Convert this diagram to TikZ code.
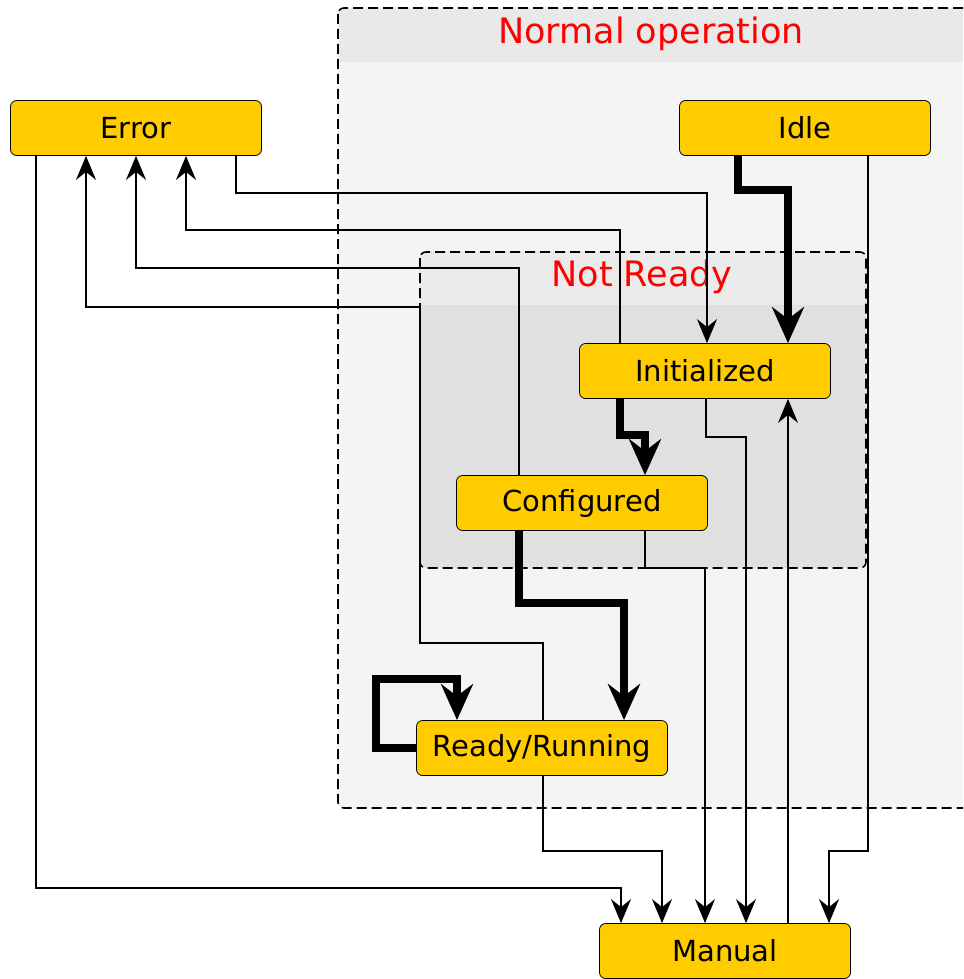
\documentclass[tikz,border=0pt]{standalone}
\usepackage{fontspec}
\setmainfont{DejaVu Sans}
\usepackage{tikz}
\usetikzlibrary{arrows.meta}
\definecolor{statefill}{HTML}{FFCC00}
\definecolor{outerhead}{HTML}{E9E9E9}
\definecolor{outerbody}{HTML}{F4F4F4}
\definecolor{innerhead}{HTML}{EBEBEB}
\definecolor{innerbody}{HTML}{E0E0E0}

\begin{document}
\begin{tikzpicture}[x=0.5pt,y=-0.5pt,
	state/.style={shape=rectangle,rounded corners=3pt,draw=black,fill=statefill,minimum width=125.5pt,minimum height=27.5pt,inner sep=0pt,font=\fontsize{14.5}{17}\selectfont},
	go/.style={-{Stealth[length=12pt,width=10pt,inset=4pt]},line width=0.7pt},
	main/.style={-{Stealth[length=18pt,width=16pt,inset=6pt]},line width=3.8pt},
	grouptitle/.style={text=red,font=\fontsize{17.5}{21}\selectfont},
	groupline/.style={dash pattern=on 5pt off 2.5pt,line width=0.8pt,rounded corners=3pt}]
	\useasboundingbox (0,0) rectangle (963,979);
	\clip (0,0) rectangle (963,979);

	\fill[outerbody,rounded corners=3pt] (338,8) rectangle (975,808);
	\fill[outerhead] (339,9) rectangle (974,62);
	\draw[groupline] (338,8) rectangle (975,808);
	\node[grouptitle] (normal) at (651,34) {Normal operation};

	\fill[innerbody,rounded corners=3pt] (420,252) rectangle (866,568);
	\fill[innerhead] (421,253) rectangle (865,305);
	\draw[groupline] (420,252) rectangle (866,568);
	\node[grouptitle] (notready) at (642,277) {Not Ready};

	\node[state] (err)   at (136,128) {Error};
	\node[state] (idle)  at (805,128) {Idle};
	\node[state] (init)  at (705,371) {Initialized};
	\node[state] (conf)  at (582,503) {Configured};
	\node[state] (ready) at (542,748) {Ready/Running};
	\node[state] (man)   at (725,951) {Manual};

	\draw[go] (236,0 |- err.south) |- (707,193) -- (707,0 |- init.north);
	\draw[go] (620,0 |- init.north) |- (186,230) -- (186,0 |- err.south);
	\draw[go] (519,0 |- conf.north) |- (136,268) -- (136,0 |- err.south);
	\draw[go] (543,0 |- ready.north) |- (420,643) |- (86,307) -- (86,0 |- err.south);
	\draw[go] (36,0 |- err.south) |- (621,888) -- (621,0 |- man.north);
	\draw[go] (543,0 |- ready.south) |- (662,851) -- (662,0 |- man.north);
	\draw[go] (645,0 |- conf.south) |- (705,568) -- (705,0 |- man.north);
	\draw[go] (706,0 |- init.south) |- (746,437) -- (746,0 |- man.north);
	\draw[go] (788,0 |- man.north) -- (788,0 |- init.south);
	\draw[go] (868,0 |- idle.south) |- (829,851) -- (829,0 |- man.north);

	\draw[main] (738,0 |- idle.south) |- (788,190) -- (788,0 |- init.north);
	\draw[main] (620,0 |- init.south) |- (645,435) -- (645,0 |- conf.north);
	\draw[main] (519,0 |- conf.south) |- (624,603) -- (624,0 |- ready.north);
	\draw[main] (ready.west) -| (376,679) -| (457,0 |- ready.north);
\end{tikzpicture}
\end{document}
